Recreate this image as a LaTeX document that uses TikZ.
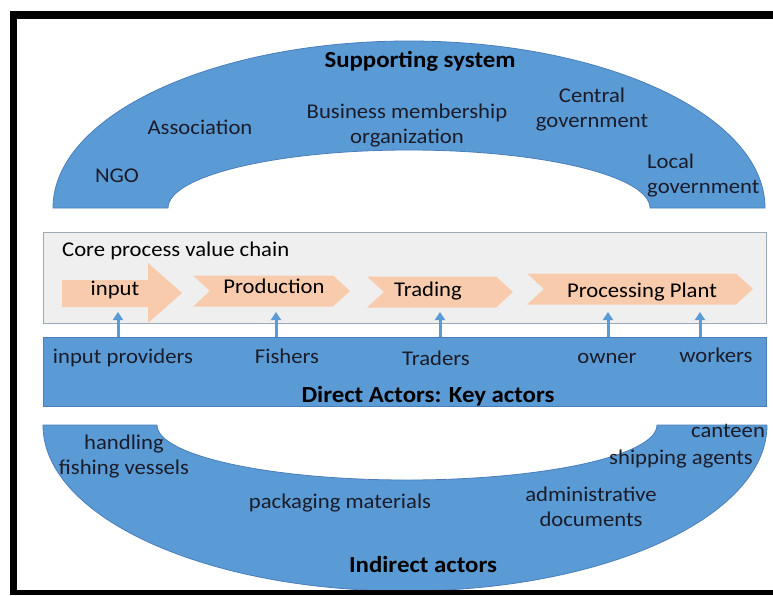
\documentclass[tikz,border=0pt]{standalone}
\usepackage{fontspec}
\setmainfont{Carlito}[FakeStretch=1.08]
\usepackage{tikz}
\usetikzlibrary{positioning,arrows.meta}

\definecolor{arcblue}{HTML}{5B9BD5}
\definecolor{arcline}{HTML}{4A7EBB}
\definecolor{peach}{HTML}{F8CBAD}
\definecolor{coregrey}{HTML}{EFEFEF}
\definecolor{coreline}{HTML}{9AAAB8}
\definecolor{ink}{HTML}{1A1C2A}

\tikzset{
  lbl/.style={anchor=base,inner sep=0pt,text=ink,font=\fontsize{21}{25}\selectfont},
  title/.style={lbl,font=\fontsize{23}{27}\selectfont\bfseries,text=black},
  band/.style={fill=arcblue,draw=arcline,line width=0.8pt},
  stage/.style={fill=peach},
  feed/.style={draw=arcblue,line width=3pt,-{Triangle[width=10pt,length=8pt]}}
}

\begin{document}
\begin{tikzpicture}[x=1pt,y=-1pt]
\useasboundingbox (0,0) rectangle (773,595);

% supporting system (upper arch)
\draw[band] (53,208) arc[start angle=180,end angle=360,x radius=356,y radius=167]
  -- (650,208) arc[start angle=0,end angle=-180,x radius=241,y radius=58] -- cycle;

% indirect actors (lower arch)
\draw[band] (43,425) arc[start angle=180,end angle=0,x radius=362,y radius=166]
  -- (657,425) arc[start angle=0,end angle=180,x radius=250,y radius=55] -- cycle;

% core process and direct actors
\node[draw=coreline,fill=coregrey,minimum width=723,minimum height=91,inner sep=0,anchor=north west] (core) at (43,232) {};
\node[band,minimum width=723,minimum height=69,inner sep=0,anchor=north west] (direct) at (43,337) {};

\fill[stage] (62,280) -- (148,280) -- (148,263) -- (182,293) -- (148,323) -- (148,307) -- (62,307) -- cycle;
\foreach \xa/\xb/\yc in {193/350/291, 367/513/292, 527/753/289} {
    \fill[stage] (\xa,\yc-15.5) -- (\xb-17,\yc-15.5) -- (\xb,\yc) -- (\xb-17,\yc+15.5) -- (\xa,\yc+15.5) -- (\xa+17,\yc) -- cycle;
}

\foreach \x in {118,276,440,608,700} {
    \draw[feed] (\x,0 |- direct.north) -- ++(0,-25);
}

% labels
\node[title] (supp) at (420,67) {Supporting system};
\node[lbl] (assoc) at (200,134) {Association};
\node[lbl,align=center] (bmo) at (407,143) {Business membership\\organization};
\node[lbl,align=center] (cgov) at (592,127) {Central\\government};
\node[lbl,align=left,anchor=base west] (lgov) at (647,193) {Local\\government};
\node[lbl] (ngo) at (117,182) {NGO};

\node[lbl,anchor=base west,text=black] (corelbl) at (62,256) {Core process value chain};
\foreach \x/\y/\name/\txt in {115/295/input/input, 274/293/prod/Production, 428/296/trade/Trading, 642/297/plant/Processing Plant} {
    \node[lbl,text=black] (\name) at (\x,\y) {\txt};
}
\foreach \x/\y/\name/\txt in {123/363/prov/input providers, 287/363/fish/Fishers, 436/365/trad/Traders, 607/363/own/owner, 716/362/work/workers} {
    \node[lbl] (\name) at (\x,\y) {\txt};
}
\node[title] (key) at (428,402) {Direct Actors: Key actors};

\node[lbl,align=center] (vessel) at (124,474) {handling\\fishing vessels};
\node[lbl] (pack) at (340,508) {packaging materials};
\node[lbl,align=center] (admin) at (591,526) {administrative\\documents};
\node[lbl] (cant) at (728,437) {canteen};
\node[lbl] (ship) at (681,464) {shipping agents};
\node[title] (indirect) at (423,572) {Indirect actors};

% frame
\fill (10,11) rectangle (773,19);
\fill (10,11) rectangle (17,595);
\fill (10,590) rectangle (773,595);
\end{tikzpicture}
\end{document}
